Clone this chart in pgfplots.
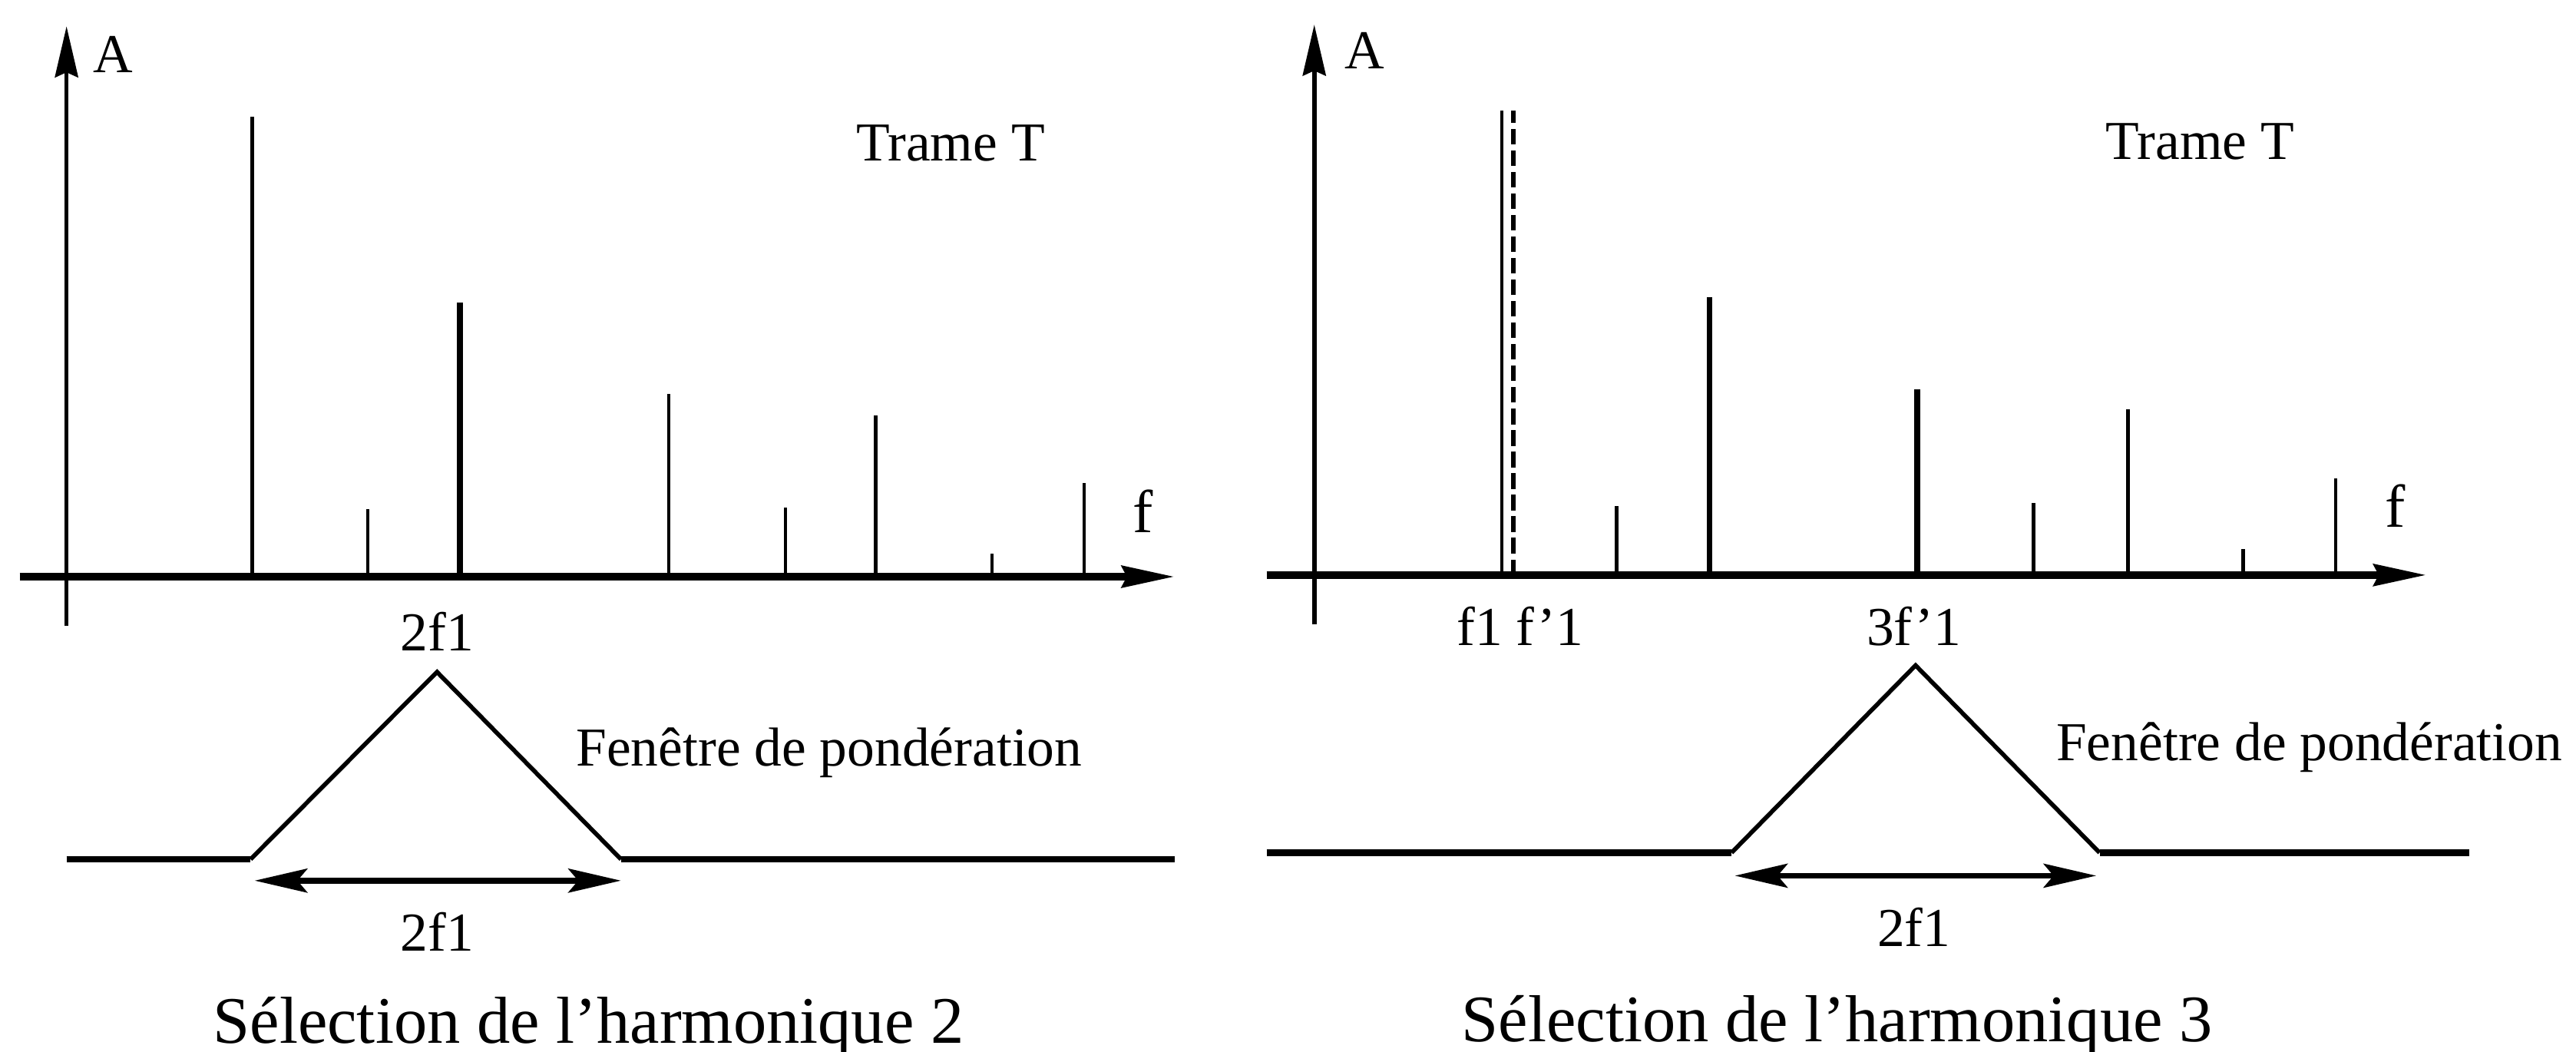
\documentclass[border=0pt]{standalone}
\usepackage{fontspec}
\setmainfont{Liberation Serif}
\usepackage{pgfplots}
\pgfplotsset{compat=1.18}
\usetikzlibrary{arrows.meta}

% one unit = one pixel of the 1568x640 reference
\pgfplotsset{
  spectre/.style={
    x=0.01cm, y=0.01cm,
    axis lines=middle,
    xtick=\empty, ytick=\empty,
    enlargelimits=false,
    clip=false,
    x axis line style={line width=1.3pt, -{Stealth[length=3.2mm,width=1.3mm,inset=0.3mm]}},
    y axis line style={line width=0.75pt, -{Stealth[length=3.1mm,width=1.4mm,inset=0.3mm]}},
  },
  fin/.style={black, line width=0.55pt, ycomb, no marks},
  epais/.style={black, line width=1.0pt, ycomb, no marks},
  plat/.style={black, line width=1.1pt, no marks},
  pente/.style={black, line width=0.75pt, no marks},
  largeur/.style={black, line width=1.0pt, no marks,
    {Stealth[length=3.2mm,width=1.45mm,inset=0.6mm]}-{Stealth[length=3.2mm,width=1.45mm,inset=0.6mm]}},
}
\newcommand{\petit}{\fontsize{9.5}{11}\selectfont}
\newcommand{\legende}{\fontsize{11.5}{13}\selectfont}

\begin{document}
\begin{tikzpicture}[x=0.01cm, y=0.01cm, every node/.style={inner sep=0pt}]
\useasboundingbox (0,0) rectangle (1568,640);

% ---- harmonique 2
\begin{axis}[spectre, at={(12,259)}, anchor=south west,
  xmin=-28.5, xmax=674.5, ymin=-30, ymax=335]
\addplot[fin] coordinates {(113,280) (183.5,41) (366.5,111) (437.5,42) (492.5,98) (563.5,14) (619.5,57)};
\addplot[epais] coordinates {(239.5,167)};
\addplot[plat] coordinates {(0,-172) (112,-172)};
\addplot[pente] coordinates {(112,-172) (225.5,-58) (337.5,-172)};
\addplot[plat] coordinates {(337.5,-172) (674.5,-172)};
\addplot[largeur] coordinates {(114.5,-185) (337.5,-185)};
\node[anchor=base west, font=\petit] at (axis cs:15.5,307) {A};
\node[anchor=base west, font=\petit] at (axis cs:480,253) {Trame T};
\node[anchor=base west, font=\fontsize{10.5}{12}\selectfont] at (axis cs:648.5,27) {f};
\node[anchor=base, font=\petit] at (axis cs:225.5,-45) {2f1};
\node[anchor=base west, font=\petit] at (axis cs:309.5,-115) {Fenêtre de pondération};
\node[anchor=base, font=\petit] at (axis cs:225.5,-228) {2f1};
\node[anchor=base west, font=\legende] at (axis cs:88.5,-284) {Sélection de l’harmonique 2};
\end{axis}

% ---- harmonique 3
\begin{axis}[spectre, at={(771,260)}, anchor=south west,
  xmin=-29, xmax=677, ymin=-30, ymax=335]
\addplot[fin] coordinates {(114,282.5) (184,42) (437.8,44) (495.3,101) (565.4,16) (621.9,59)};
\addplot[epais] coordinates {(240.6,169) (367,113)};
\addplot[black, line width=0.8pt, ycomb, no marks, dash pattern=on 0.95mm off 0.36mm] coordinates {(121.3,282.5)};
\addplot[plat] coordinates {(-29,-169) (254,-169)};
\addplot[pente] coordinates {(254,-169) (366,-55) (478,-169)};
\addplot[plat] coordinates {(478,-169) (703,-169)};
\addplot[largeur] coordinates {(256,-183) (476,-183)};
\node[anchor=base west, font=\petit] at (axis cs:18,308) {A};
\node[anchor=base west, font=\petit] at (axis cs:481,253) {Trame T};
\node[anchor=base west, font=\fontsize{10.5}{12}\selectfont] at (axis cs:651,29) {f};
\node[anchor=base west, font=\petit] at (axis cs:86,-43) {f1 f’1};
\node[anchor=base, font=\petit] at (axis cs:365,-43) {3f’1};
\node[anchor=base west, font=\petit] at (axis cs:451,-113) {Fenêtre de pondération};
\node[anchor=base, font=\petit] at (axis cs:365,-226) {2f1};
\node[anchor=base west, font=\legende] at (axis cs:89,-284) {Sélection de l’harmonique 3};
\end{axis}
\end{tikzpicture}
\end{document}
